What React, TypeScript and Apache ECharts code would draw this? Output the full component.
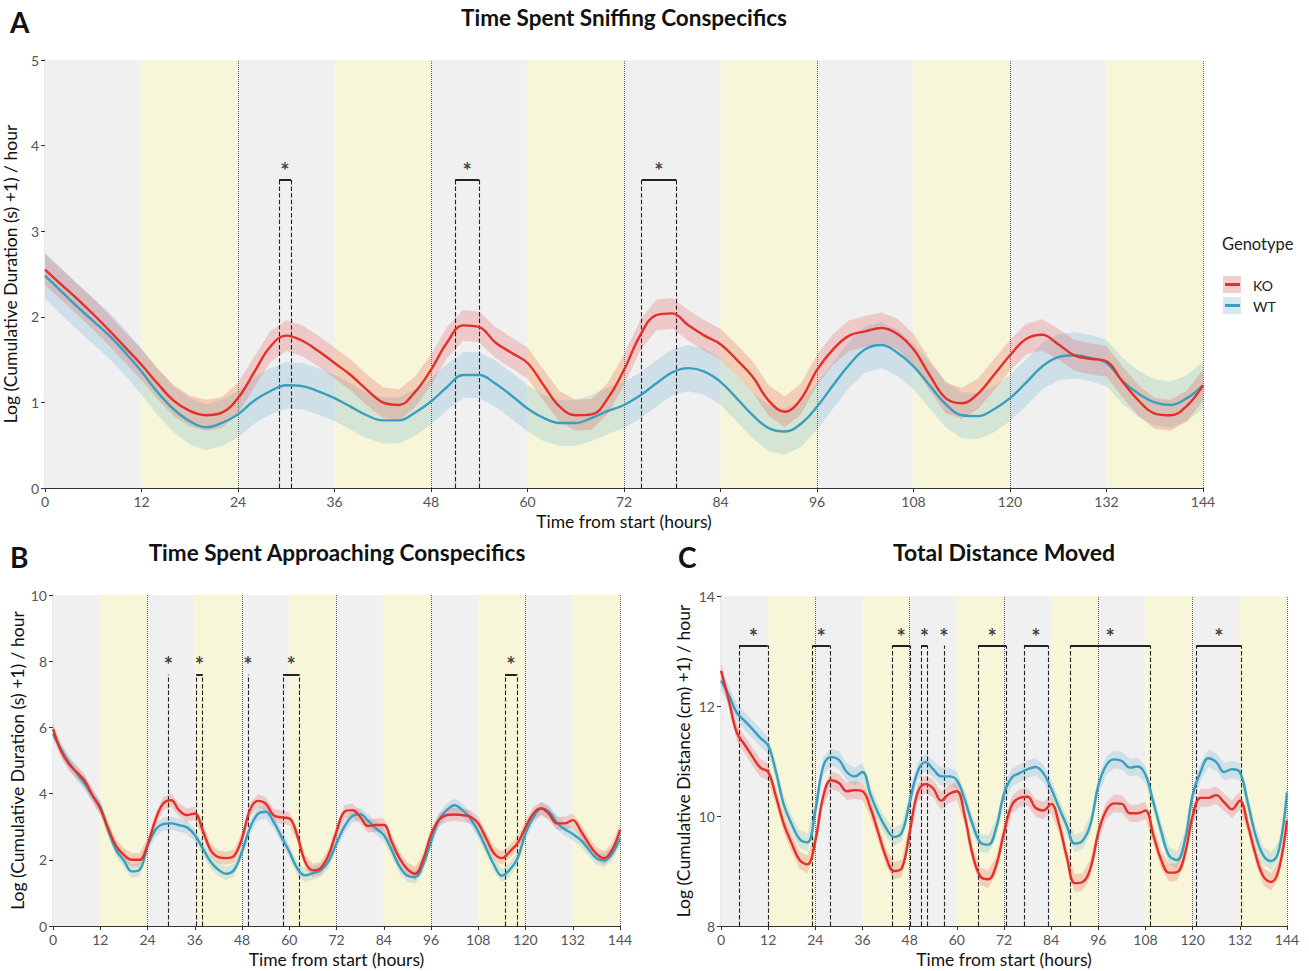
import React, { useEffect, useRef } from "react";
import * as echarts from "echarts";

// ---------- data ----------
const hours = [0, 2, 4, 6, 8, 10, 12, 14, 16, 18, 20, 22, 24, 26, 28, 30, 32, 34, 36, 38, 40, 42, 44, 46, 48, 50, 52, 54, 56, 58, 60, 62, 64, 66, 68, 70, 72, 74, 76, 78, 80, 82, 84, 86, 88, 90, 92, 94, 96, 98, 100, 102, 104, 106, 108, 110, 112, 114, 116, 118, 120, 122, 124, 126, 128, 130, 132, 134, 136, 138, 140, 142, 144];

// Panel A - sniffing
const koSniff = [2.55, 2.38, 2.21, 2.03, 1.84, 1.64, 1.44, 1.22, 1.02, 0.9, 0.85, 0.88, 1.05, 1.35, 1.65, 1.78, 1.72, 1.6, 1.46, 1.32, 1.15, 1.0, 0.97, 1.12, 1.38, 1.7, 1.9, 1.88, 1.7, 1.58, 1.46, 1.2, 0.95, 0.85, 0.86, 1.05, 1.38, 1.78, 2.02, 2.04, 1.9, 1.78, 1.68, 1.5, 1.3, 1.02, 0.89, 1.04, 1.38, 1.62, 1.78, 1.83, 1.87, 1.8, 1.62, 1.32, 1.05, 0.99, 1.1, 1.32, 1.55, 1.74, 1.79, 1.68, 1.55, 1.51, 1.48, 1.24, 1.02, 0.87, 0.85, 0.96, 1.2];
const wtSniff = [2.48, 2.3, 2.12, 1.95, 1.78, 1.58, 1.36, 1.12, 0.92, 0.78, 0.71, 0.76, 0.86, 1.02, 1.13, 1.2, 1.19, 1.13, 1.05, 0.95, 0.85, 0.79, 0.79, 0.88, 1.01, 1.18, 1.32, 1.32, 1.22, 1.08, 0.93, 0.82, 0.76, 0.76, 0.82, 0.9, 0.97, 1.08, 1.22, 1.35, 1.4, 1.36, 1.24, 1.05, 0.85, 0.7, 0.66, 0.75, 0.95, 1.2, 1.44, 1.62, 1.67, 1.58, 1.42, 1.2, 0.98, 0.85, 0.84, 0.92, 1.05, 1.23, 1.42, 1.53, 1.55, 1.52, 1.46, 1.25, 1.1, 1.0, 0.97, 1.05, 1.2];

// Panel B - approaching
const koApproach = [5.95, 5.3, 4.9, 4.65, 4.4, 3.95, 3.55, 2.95, 2.42, 2.15, 2.0, 2.0, 2.45, 3.2, 3.7, 3.8, 3.5, 3.35, 3.4, 2.9, 2.3, 2.08, 2.05, 2.12, 2.65, 3.5, 3.78, 3.7, 3.35, 3.28, 3.25, 2.75, 1.95, 1.68, 1.75, 2.15, 2.85, 3.45, 3.5, 3.3, 3.02, 3.05, 3.05, 2.55, 2.05, 1.72, 1.58, 2.0, 2.75, 3.2, 3.35, 3.37, 3.35, 3.3, 3.1, 2.65, 2.2, 2.05, 2.25, 2.5, 2.98, 3.4, 3.55, 3.38, 3.1, 3.1, 3.2, 2.88, 2.5, 2.18, 2.05, 2.3, 2.9];
const wtApproach = [5.8, 5.35, 4.95, 4.62, 4.3, 3.95, 3.6, 2.9, 2.3, 1.98, 1.65, 1.7, 2.4, 2.9, 3.08, 3.1, 3.05, 2.98, 2.75, 2.35, 1.95, 1.7, 1.58, 1.7, 2.25, 2.95, 3.38, 3.45, 3.15, 2.7, 2.25, 1.75, 1.53, 1.6, 1.68, 1.95, 2.5, 3.0, 3.32, 3.38, 3.18, 2.95, 2.75, 2.3, 1.8, 1.52, 1.48, 1.85, 2.55, 3.2, 3.5, 3.65, 3.5, 3.25, 2.85, 2.35, 1.85, 1.52, 1.7, 2.05, 2.8, 3.28, 3.55, 3.45, 3.12, 2.92, 2.78, 2.6, 2.32, 2.05, 1.98, 2.18, 2.65];

// Panel C - distance
const koDistance = [12.64, 12.1, 11.52, 11.3, 11.08, 10.88, 10.8, 10.35, 9.85, 9.5, 9.2, 9.12, 9.55, 10.35, 10.65, 10.6, 10.45, 10.47, 10.45, 10.15, 9.7, 9.25, 9.0, 9.05, 9.7, 10.42, 10.58, 10.5, 10.28, 10.4, 10.45, 10.0, 9.3, 8.9, 8.85, 9.1, 9.7, 10.2, 10.33, 10.35, 10.15, 10.1, 10.22, 9.85, 9.25, 8.78, 8.8, 9.05, 9.7, 10.1, 10.23, 10.22, 10.05, 10.05, 10.1, 9.65, 9.2, 8.97, 8.98, 9.3, 10.0, 10.33, 10.33, 10.38, 10.25, 10.12, 10.28, 9.85, 9.3, 8.9, 8.8, 9.05, 9.92];
const wtDistance = [12.46, 12.2, 11.88, 11.73, 11.58, 11.42, 11.28, 10.8, 10.2, 9.85, 9.58, 9.52, 10.1, 10.9, 11.07, 11.02, 10.8, 10.72, 10.8, 10.4, 10.05, 9.78, 9.62, 9.7, 10.25, 10.8, 10.98, 10.85, 10.72, 10.72, 10.65, 10.3, 9.85, 9.52, 9.48, 9.78, 10.4, 10.7, 10.78, 10.85, 10.89, 10.78, 10.5, 10.15, 9.82, 9.5, 9.55, 9.85, 10.55, 10.92, 11.03, 11.0, 10.88, 10.9, 10.75, 10.25, 9.72, 9.28, 9.2, 9.55, 10.38, 10.8, 11.05, 10.98, 10.8, 10.85, 10.8, 10.25, 9.65, 9.28, 9.18, 9.4, 10.43];

// confidence half-widths
const ciHalf = { koA: 0.18, wtA: 0.27, koB: 0.2, wtB: 0.2, koC: 0.16, wtC: 0.16 };

// light/dark phases and day boundaries
const greyPhases = [[0, 12], [24, 36], [48, 60], [72, 84], [96, 108], [120, 132]];
const yellowPhases = [[12, 24], [36, 48], [60, 72], [84, 96], [108, 120], [132, 144]];
const dayBoundaries = [24, 48, 72, 96, 120, 144];

// significance windows (hours)
const sigA = [[29.1, 30.6], [51.0, 54.0], [74.2, 78.5]];
const sigB = [[29.3], [36.4, 38.0], [49.5], [58.4, 62.6], [114.8, 117.8]];
const sigC = [[4.6, 11.9], [23.3, 27.7], [43.6, 48.1], [51.0, 52.5], [56.7], [65.4, 72.6], [77.1, 83.2], [88.8, 109.2], [120.9, 132.4]];

const xTicks = { min: 0, max: 144, interval: 12 };
const yA = { min: 0, max: 5, interval: 1 };
const yB = { min: 0, max: 10, interval: 2 };
const yC = { min: 8, max: 14, interval: 2 };

// ---------- styles ----------
const FONT = 'Lato, "Open Sans", sans-serif';
const RED = "#e4302b";
const BLUE = "#3a9fbf";
const RED_BAND = "rgba(232, 80, 80, 0.24)";
const BLUE_BAND = "rgba(90, 165, 205, 0.22)";
const GREY_BG = "#f0f0f0";
const YELLOW_BG = "#f7f6d8";

function bgSeries(g: number, yMin: number) {
  return {
    type: "line",
    xAxisIndex: g,
    yAxisIndex: g,
    data: [[0, yMin]],
    symbol: "none",
    lineStyle: { opacity: 0 },
    silent: true,
    z: 1,
    markArea: {
      silent: true,
      z: 1,
      data: [
        ...greyPhases.map((p) => [{ xAxis: p[0], itemStyle: { color: GREY_BG } }, { xAxis: p[1] }]),
        ...yellowPhases.map((p) => [{ xAxis: p[0], itemStyle: { color: YELLOW_BG } }, { xAxis: p[1] }]),
      ],
    },
    markLine: {
      silent: true,
      z: 3,
      symbol: ["none", "none"],
      label: { show: false },
      lineStyle: { type: "dotted", color: "#666", width: 1 },
      data: dayBoundaries.map((d) => ({ xAxis: d })),
    },
  };
}

function bandSeries(g: number, vals: number[], half: number, color: string) {
  return {
    type: "custom",
    xAxisIndex: g,
    yAxisIndex: g,
    data: [[hours[0], vals[0]]],
    z: 2,
    silent: true,
    renderItem: (_p: any, api: any) => {
      const pts: number[][] = [];
      for (let i = 0; i < hours.length; i++) pts.push(api.coord([hours[i], vals[i] + half]));
      for (let i = hours.length - 1; i >= 0; i--) pts.push(api.coord([hours[i], vals[i] - half]));
      return { type: "polygon", shape: { points: pts, smooth: 0 }, style: { fill: color } };
    },
  };
}

function lineSeries(g: number, vals: number[], color: string, name: string) {
  return {
    type: "line",
    name,
    xAxisIndex: g,
    yAxisIndex: g,
    data: hours.map((h, i) => [h, vals[i]]),
    smooth: 0.4,
    symbol: "none",
    lineStyle: { color, width: 2.4 },
    z: 6,
    silent: true,
  };
}

function sigSeries(g: number, sig: number[][], yMin: number, yTop: number) {
  const segs: any[] = [];
  sig.forEach((s) => {
    s.forEach((x) => {
      segs.push([{ coord: [x, yMin], lineStyle: { type: "dashed", color: "#222", width: 1.1 } }, { coord: [x, yTop] }]);
    });
    if (s.length === 2) {
      segs.push([{ coord: [s[0], yTop], lineStyle: { type: "solid", color: "#222", width: 2 } }, { coord: [s[1], yTop] }]);
    }
  });
  return [
    {
      type: "line",
      xAxisIndex: g,
      yAxisIndex: g,
      data: [[0, yMin]],
      symbol: "none",
      lineStyle: { opacity: 0 },
      silent: true,
      z: 4,
      markLine: {
        silent: true,
        z: 4,
        symbol: ["none", "none"],
        label: { show: false },
        data: segs,
      },
    },
    {
      type: "scatter",
      xAxisIndex: g,
      yAxisIndex: g,
      data: sig.map((s) => [s.length === 2 ? (s[0] + s[1]) / 2 : s[0], yTop]),
      symbolSize: 1,
      itemStyle: { color: "rgba(0,0,0,0)" },
      silent: true,
      z: 7,
      label: {
        show: true,
        position: "top",
        distance: -2,
        formatter: "*",
        fontSize: 22,
        fontWeight: "bold",
        color: "#111",
        textBorderWidth: 0,
        fontFamily: FONT,
      },
    },
  ];
}

function xAxisOpt(g: number) {
  return {
    type: "value",
    gridIndex: g,
    ...xTicks,
    name: "Time from start (hours)",
    nameLocation: "middle",
    nameGap: 24,
    nameTextStyle: { color: "#111", fontSize: 17.5, fontFamily: FONT },
    axisLine: { show: true, onZero: false, lineStyle: { color: "#333", width: 1.2 } },
    axisTick: { show: true, length: 4, lineStyle: { color: "#333" } },
    axisLabel: { color: "#555", fontSize: 14, margin: 6, fontFamily: FONT },
    splitLine: { show: false },
  };
}

function yAxisOpt(g: number, range: any, name: string, gap: number) {
  return {
    type: "value",
    gridIndex: g,
    ...range,
    name,
    nameLocation: "middle",
    nameGap: gap,
    nameTextStyle: { color: "#111", fontSize: 17.5, fontFamily: FONT },
    axisLine: { show: true, onZero: false, lineStyle: { color: "#333", width: 1.2 } },
    axisTick: { show: true, length: 4, lineStyle: { color: "#333" } },
    axisLabel: { color: "#555", fontSize: 14, margin: 6, fontFamily: FONT },
    splitLine: { show: false },
  };
}

function text(x: number, y: number, t: string, size: number, weight: string, align = "center", color = "#111") {
  return {
    type: "text",
    x,
    y,
    silent: true,
    style: { text: t, fontSize: size, fontWeight: weight, fontFamily: FONT, fill: color, align, verticalAlign: "middle" },
  };
}

export default function App() {
  const ref = useRef<HTMLDivElement>(null);
  useEffect(() => {
    if (!ref.current) return;
    const chart = echarts.init(ref.current, null, { renderer: "svg" });
    const option: any = {
      animation: false,
      backgroundColor: "#ffffff",
      grid: [
        { left: 45, top: 60, width: 1158, height: 428, containLabel: false, outerBoundsMode: "none" },
        { left: 53, top: 595, width: 567, height: 331, containLabel: false, outerBoundsMode: "none" },
        { left: 721, top: 596, width: 566, height: 330, containLabel: false, outerBoundsMode: "none" },
      ],
      xAxis: [xAxisOpt(0), xAxisOpt(1), xAxisOpt(2)],
      yAxis: [
        yAxisOpt(0, yA, "Log (Cumulative Duration (s) +1) / hour", 20),
        yAxisOpt(1, yB, "Log (Cumulative Duration (s) +1) / hour", 27),
        yAxisOpt(2, yC, "Log (Cumulative Distance (cm) +1) / hour", 29),
      ],
      series: [
        bgSeries(0, yA.min),
        bandSeries(0, wtSniff, ciHalf.wtA, BLUE_BAND),
        bandSeries(0, koSniff, ciHalf.koA, RED_BAND),
        ...sigSeries(0, sigA, yA.min, 3.6),
        lineSeries(0, wtSniff, BLUE, "WT"),
        lineSeries(0, koSniff, RED, "KO"),

        bgSeries(1, yB.min),
        bandSeries(1, wtApproach, ciHalf.wtB, BLUE_BAND),
        bandSeries(1, koApproach, ciHalf.koB, RED_BAND),
        ...sigSeries(1, sigB, yB.min, 7.6),
        lineSeries(1, wtApproach, BLUE, "WT"),
        lineSeries(1, koApproach, RED, "KO"),

        bgSeries(2, yC.min),
        bandSeries(2, wtDistance, ciHalf.wtC, BLUE_BAND),
        bandSeries(2, koDistance, ciHalf.koC, RED_BAND),
        ...sigSeries(2, sigC, yC.min, 13.1),
        lineSeries(2, wtDistance, BLUE, "WT"),
        lineSeries(2, koDistance, RED, "KO"),
      ],
      graphic: [
        text(624, 17, "Time Spent Sniffing Conspecifics", 22.5, "bold"),
        text(337, 552, "Time Spent Approaching Conspecifics", 22.5, "bold"),
        text(1004, 552, "Total Distance Moved", 23, "bold"),
        text(10, 22, "A", 28, "bold", "left"),
        text(10, 557, "B", 28, "bold", "left"),
        text(678, 557, "C", 28, "bold", "left"),
        text(1222, 244, "Genotype", 16.5, "normal", "left", "#222"),
        { type: "rect", shape: { x: 1223, y: 276, width: 18, height: 17 }, style: { fill: "#f2cfcf" }, silent: true },
        { type: "line", shape: { x1: 1225, y1: 284.5, x2: 1240, y2: 284.5 }, style: { stroke: RED, lineWidth: 3 }, silent: true },
        text(1253, 285, "KO", 14, "normal", "left", "#222"),
        { type: "rect", shape: { x: 1223, y: 297, width: 18, height: 17 }, style: { fill: "#d7e8ee" }, silent: true },
        { type: "line", shape: { x1: 1225, y1: 305.5, x2: 1240, y2: 305.5 }, style: { stroke: BLUE, lineWidth: 3 }, silent: true },
        text(1253, 306, "WT", 14, "normal", "left", "#222"),
      ],
    };
    chart.setOption(option);
    return () => chart.dispose();
  }, []);
  return <div ref={ref} style={{ position: "absolute", left: 0, top: 0, width: 1309, height: 971 }} />;
}
